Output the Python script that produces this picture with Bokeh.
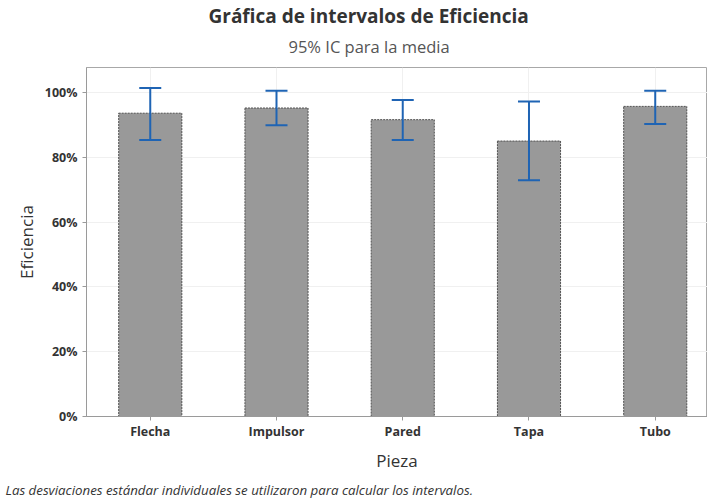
from bokeh.plotting import figure
from bokeh.models import (ColumnDataSource, Range1d, FixedTicker, Whisker, TeeHead,
                          Title, PrintfTickFormatter)
from bokeh.embed import file_html
from bokeh.resources import INLINE

categories = ["Flecha", "Impulsor", "Pared", "Tapa", "Tubo"]
means = [93.6, 95.2, 91.6, 85.0, 95.7]
ci_upper = [101.4, 100.5, 97.7, 97.2, 100.5]
ci_lower = [85.3, 89.9, 85.3, 72.9, 90.3]
y_ticks = [0, 20, 40, 60, 80, 100]

FONT = "Open Sans"
xs = list(range(len(categories)))
src = ColumnDataSource(dict(x=xs, mean=means, upper=ci_upper, lower=ci_lower))

p = figure(width=707, height=502, output_backend="svg", toolbar_location=None,
           x_range=Range1d(-0.505, 4.414), y_range=Range1d(0, 107.7),
           min_border_left=86, min_border_right=0, min_border_top=67, min_border_bottom=0)
p.background_fill_color = "white"
p.border_fill_color = "white"
p.outline_line_color = "#a8a8a8"
p.outline_line_width = 1

p.vbar(x="x", top="mean", width=0.5, bottom=0, source=src, fill_color="#999999",
       line_color="#505050", line_width=1, line_dash="2 1")

blue = "#1f64b4"
w = Whisker(base="x", upper="upper", lower="lower", source=src, level="overlay",
            line_color=blue, line_width=2,
            upper_head=TeeHead(size=22, line_color=blue, line_width=2),
            lower_head=TeeHead(size=22, line_color=blue, line_width=2))
p.add_layout(w)

# axes
p.xaxis.ticker = FixedTicker(ticks=xs)
p.xaxis.major_label_overrides = {i: c for i, c in zip(xs, categories)}
p.yaxis.ticker = FixedTicker(ticks=y_ticks)
p.yaxis.formatter = PrintfTickFormatter(format="%d%%")
for ax in (p.xaxis[0], p.yaxis[0]):
    ax.axis_line_color = "#9a9a9a"
    ax.major_tick_line_color = "#9a9a9a"
    ax.major_tick_out = 4
    ax.major_tick_in = 0
    ax.minor_tick_line_color = None
    ax.major_label_text_font = FONT
    ax.major_label_text_font_size = "12.5px"
    ax.major_label_text_font_style = "bold"
    ax.major_label_text_color = "#333333"
    ax.axis_label_text_font = FONT
    ax.axis_label_text_font_size = "17px"
    ax.axis_label_text_font_style = "normal"
    ax.axis_label_text_color = "#333333"
p.xaxis.axis_label = "Pieza"
p.yaxis.axis_label = "Eficiencia"
p.xaxis.major_label_standoff = 2
p.xaxis.axis_label_standoff = 6
p.yaxis.major_label_standoff = 5
p.yaxis.axis_label_standoff = 4

p.xgrid.grid_line_color = "#f0f0f0"
p.ygrid.grid_line_color = "#f0f0f0"
p.xgrid.ticker = FixedTicker(ticks=xs)
p.ygrid.ticker = FixedTicker(ticks=y_ticks)

# titles (subtitle nearest the frame, main title above it)
p.add_layout(Title(text="95% IC para la media", text_font=FONT, text_font_size="16.5px",
                   text_font_style="normal", text_color="#555555", align="left",
                   offset=202, standoff=19), "above")
p.add_layout(Title(text="Gráfica de intervalos de Eficiencia", text_font=FONT,
                   text_font_size="19px", text_font_style="bold", text_color="#333333",
                   align="left", offset=122, standoff=-11), "above")
# footnote
p.add_layout(Title(text="Las desviaciones estándar individuales se utilizaron para calcular los intervalos.",
                   text_font=FONT, text_font_size="13.3px", text_font_style="italic",
                   text_color="#333333", align="left", offset=-81, standoff=8), "below")

open("out.html", "w").write(file_html(p, INLINE))
